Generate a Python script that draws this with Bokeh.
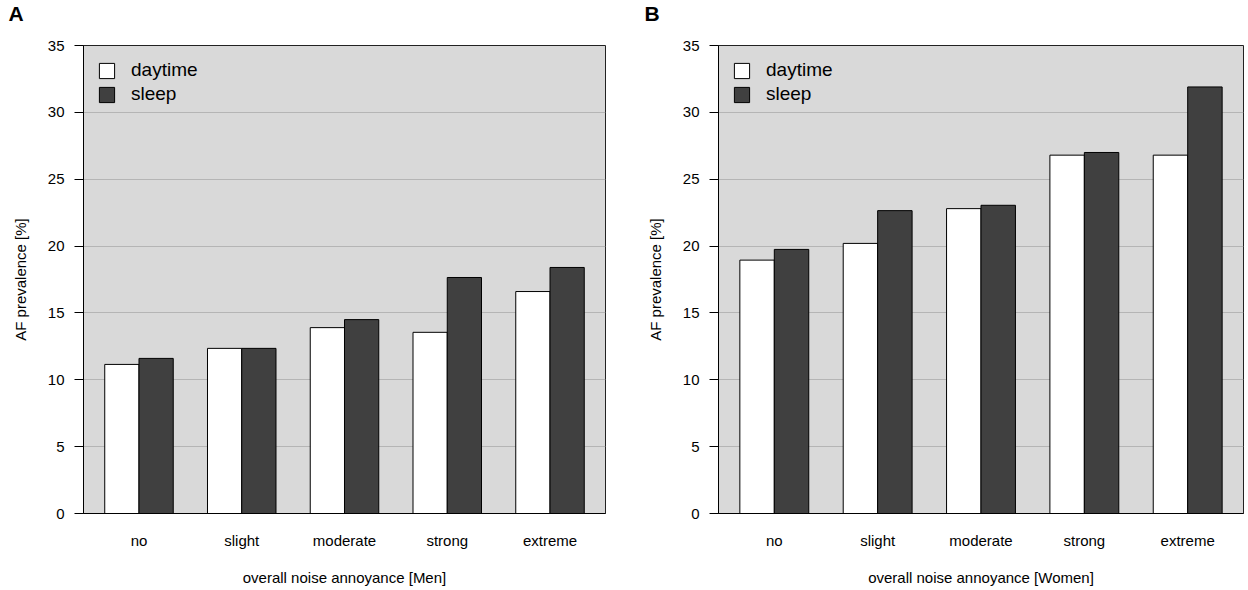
from bokeh.plotting import figure
from bokeh.models import FactorRange, Range1d, FixedTicker, Legend, LegendItem, Title
from bokeh.transform import dodge
from bokeh.layouts import row
from bokeh.embed import file_html
from bokeh.resources import INLINE

categories = ["no", "slight", "moderate", "strong", "extreme"]
men_daytime = [11.15, 12.35, 13.9, 13.55, 16.6]
men_sleep = [11.6, 12.35, 14.5, 17.65, 18.4]
women_daytime = [18.95, 20.2, 22.8, 26.8, 26.8]
women_sleep = [19.75, 22.65, 23.05, 27.0, 31.9]
y_ticks = [0, 5, 10, 15, 20, 25, 30, 35]
series_labels = ["daytime", "sleep"]
series_colors = ["#ffffff", "#404040"]

FONT = "Liberation Sans"
FRAME_H = 468
TOP = 45


def make_panel(letter, letter_dx, daytime, sleep, xlabel, width, border_left, border_right):
    p = figure(
        x_range=FactorRange(factors=categories, range_padding=0.04,
                            range_padding_units="absolute"),
        y_range=Range1d(0, 35),
        width=width, height=589,
        min_border_left=border_left, min_border_right=border_right,
        min_border_top=TOP, min_border_bottom=589 - TOP - FRAME_H,
        output_backend="svg", toolbar_location=None,
        background_fill_color="#d9d9d9", border_fill_color="white",
    )
    # spacer between frame and panel letter
    p.add_layout(Title(text=" ", text_font_size="1px", standoff=14), "above")
    p.add_layout(Title(text=letter, align="left", vertical_align="top", offset=letter_dx,
                       standoff=3, text_font=FONT, text_font_size="21px",
                       text_font_style="bold", text_color="black"), "above")

    src = dict(cat=categories, daytime=daytime, sleep=sleep)
    r1 = p.vbar(x=dodge("cat", -1/6, range=p.x_range), top="daytime", width=1/3,
                source=src, fill_color=series_colors[0], line_color="black", line_width=1)
    r2 = p.vbar(x=dodge("cat", 1/6, range=p.x_range), top="sleep", width=1/3,
                source=src, fill_color=series_colors[1], line_color="black", line_width=1)

    p.outline_line_color = "#222222"
    p.outline_line_width = 1
    p.xgrid.grid_line_color = None
    p.ygrid.grid_line_color = "#b5b5b5"
    p.ygrid.grid_line_width = 1

    p.yaxis.ticker = FixedTicker(ticks=y_ticks)
    p.yaxis.minor_tick_line_color = None
    p.yaxis.major_tick_out = 9
    p.yaxis.major_tick_in = 0
    p.yaxis.major_tick_line_color = "black"
    p.yaxis.axis_line_color = "black"
    p.yaxis.major_label_text_font = FONT
    p.yaxis.major_label_text_font_size = "15px"
    p.yaxis.major_label_text_color = "black"
    p.yaxis.major_label_standoff = 10
    p.yaxis.axis_label = "AF prevalence [%]"
    p.yaxis.axis_label_text_font = FONT
    p.yaxis.axis_label_text_font_size = "15px"
    p.yaxis.axis_label_text_font_style = "normal"
    p.yaxis.axis_label_text_color = "black"
    p.yaxis.axis_label_standoff = 16

    p.xaxis.major_tick_line_color = None
    p.xaxis.minor_tick_line_color = None
    p.xaxis.major_tick_out = 0
    p.xaxis.major_tick_in = 0
    p.xaxis.axis_line_color = "black"
    p.xaxis.major_label_text_font = FONT
    p.xaxis.major_label_text_font_size = "15px"
    p.xaxis.major_label_text_color = "black"
    p.xaxis.major_label_standoff = 18
    p.xaxis.axis_label = xlabel
    p.xaxis.axis_label_text_font = FONT
    p.xaxis.axis_label_text_font_size = "15px"
    p.xaxis.axis_label_text_font_style = "normal"
    p.xaxis.axis_label_text_color = "black"
    p.xaxis.axis_label_standoff = 17

    legend = Legend(items=[LegendItem(label=series_labels[0], renderers=[r1]),
                           LegendItem(label=series_labels[1], renderers=[r2])],
                    location="top_left")
    legend.background_fill_alpha = 0
    legend.border_line_color = None
    legend.margin = 14
    legend.padding = 1
    legend.glyph_width = 19
    legend.glyph_height = 19
    legend.label_height = 19
    legend.spacing = 2
    legend.label_standoff = 15
    legend.label_text_font = FONT
    legend.label_text_font_size = "19px"
    legend.label_text_color = "black"
    p.add_layout(legend, "center")
    return p


pa = make_panel("A", -75, men_daytime, men_sleep, "overall noise annoyance [Men]", 638, 83, 33)
pb = make_panel("B", -74, women_daytime, women_sleep, "overall noise annoyance [Women]", 610, 80, 5)
layout = row(pa, pb)

open("out.html", "w").write(file_html(layout, INLINE))
